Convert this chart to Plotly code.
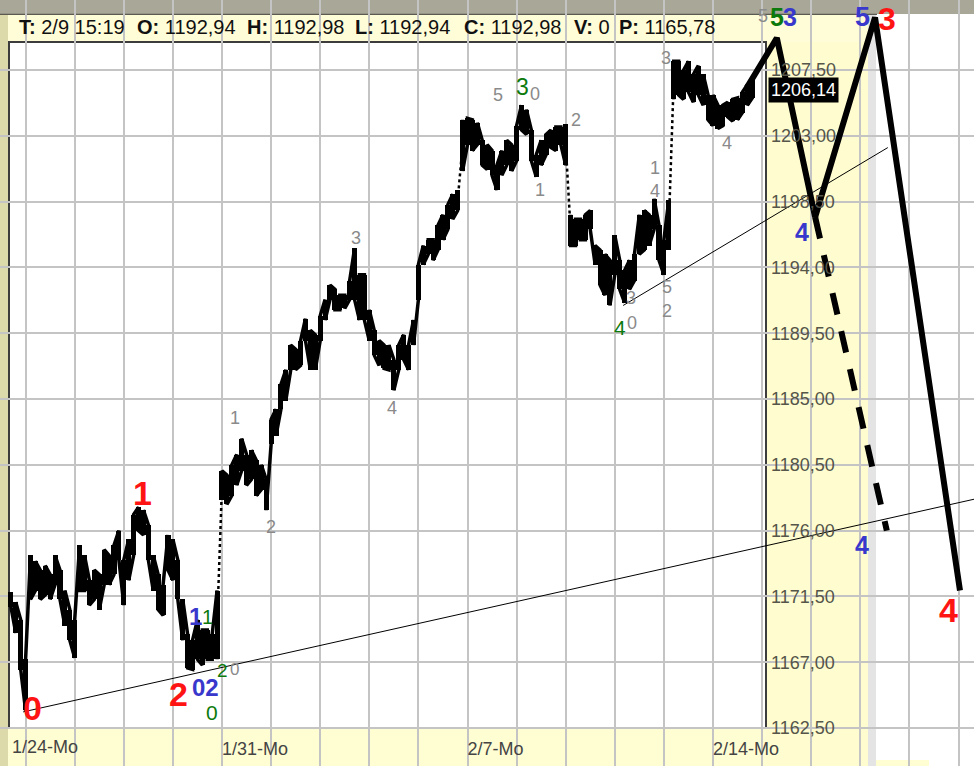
import plotly.graph_objects as go

# ---------------- data ----------------
day_start = 0.7      # first bar, in trading days (1/24 = day 0)
day_step = 0.1

price_high = [
    1171.8, 1171.1, 1169.9, 1167.2, 1174.3, 1173.9, 1173.3, 1173.6, 1173.0, 1174.3,
    1173.3, 1171.9, 1170.6, 1169.9, 1175.0, 1174.3, 1172.6, 1173.3, 1173.0, 1174.7,
    1174.3, 1175.0, 1176.0, 1174.0, 1175.4, 1177.1, 1177.6, 1177.4, 1176.4, 1174.3,
    1173.0, 1172.3, 1175.7, 1175.4, 1174.0, 1171.3, 1168.9, 1168.5, 1169.9, 1169.2,
    1169.2, 1168.9, 1171.9, 1180.1, 1179.8, 1180.5, 1181.2, 1182.3, 1181.2, 1181.5,
    1180.8, 1180.5, 1179.5, 1183.6, 1184.3, 1186.0, 1187.0, 1188.7, 1188.4, 1189.0,
    1190.5, 1189.7, 1189.4, 1190.7, 1191.8, 1192.8, 1192.5, 1192.1, 1192.1, 1193.1,
    1195.3, 1193.5, 1193.5, 1191.1, 1189.7, 1189.0, 1188.7, 1188.7, 1187.7, 1188.7,
    1189.4, 1188.7, 1190.4, 1194.2, 1195.5, 1195.9, 1195.9, 1196.9, 1197.6, 1198.3,
    1199.0, 1199.3, 1204.1, 1204.2, 1204.1, 1203.9, 1202.7, 1202.4, 1202.0, 1201.0,
    1202.0, 1202.7, 1202.4, 1203.7, 1205.1, 1204.8, 1203.4, 1201.7, 1202.7, 1203.1,
    1203.4, 1203.6, 1203.6, 1203.8, 1197.6, 1197.3, 1197.3, 1197.6, 1197.9, 1195.5,
    1195.2, 1194.9, 1194.5, 1196.2, 1194.5, 1193.8, 1194.5, 1194.9, 1197.6, 1197.9,
    1197.6, 1198.7, 1196.9, 1195.9, 1198.6, 1208.1, 1208.1, 1207.5, 1208.1, 1207.2,
    1207.8, 1207.2, 1205.8, 1205.8, 1205.1, 1205.1, 1205.3, 1205.5, 1205.6, 1206.0,
    1206.5, 1206.8,
]
price_low = [
    1170.8, 1169.0, 1166.5, 1163.7, 1171.3, 1171.9, 1171.3, 1171.6, 1171.3, 1172.3,
    1171.3, 1169.5, 1168.5, 1167.3, 1171.9, 1171.9, 1170.9, 1171.3, 1170.6, 1172.3,
    1172.3, 1173.0, 1174.0, 1170.9, 1172.6, 1174.3, 1176.0, 1175.7, 1174.0, 1171.9,
    1170.6, 1170.2, 1173.3, 1172.6, 1171.3, 1168.5, 1166.6, 1166.5, 1167.2, 1166.8,
    1167.2, 1167.2, 1167.2, 1178.1, 1177.8, 1178.4, 1179.1, 1180.1, 1179.1, 1179.5,
    1178.4, 1178.8, 1177.4, 1181.9, 1182.5, 1184.3, 1184.9, 1187.0, 1187.0, 1187.3,
    1189.0, 1187.0, 1187.0, 1189.0, 1190.4, 1191.8, 1191.1, 1191.1, 1191.2, 1191.8,
    1191.8, 1190.4, 1190.4, 1189.0, 1188.0, 1187.3, 1187.1, 1187.0, 1185.6, 1187.0,
    1187.7, 1187.0, 1188.7, 1191.8, 1194.2, 1194.9, 1194.5, 1195.2, 1195.9, 1196.6,
    1197.3, 1197.9, 1200.6, 1202.4, 1202.0, 1202.4, 1201.0, 1200.7, 1200.3, 1199.3,
    1200.3, 1201.0, 1200.6, 1201.3, 1203.4, 1203.1, 1201.3, 1200.2, 1201.0, 1201.7,
    1202.2, 1202.0, 1202.4, 1201.0, 1195.5, 1195.5, 1195.9, 1195.9, 1196.6, 1194.2,
    1192.8, 1192.1, 1191.4, 1193.5, 1192.5, 1191.6, 1192.5, 1193.1, 1194.9, 1195.2,
    1195.5, 1196.6, 1194.5, 1193.5, 1195.2, 1205.5, 1205.8, 1205.5, 1206.0, 1205.3,
    1205.8, 1205.1, 1204.1, 1203.7, 1203.5, 1203.7, 1204.3, 1204.0, 1204.1, 1204.6,
    1205.1, 1205.6,
]
session_breaks = [42, 91, 113, 134]   # gap after these bars

# projected wave path (solid) and alternate wave-4 target (dashed)
wave_days = [15.69, 16.30, 17.08, 18.30, 20.03]
wave_prices = [1206.3, 1209.7, 1197.45, 1211.1, 1171.9]
alt_days = [17.08, 18.54]
alt_prices = [1197.45, 1176.0]

# thin trend lines
trend1_days = [0.95, 20.32]
trend1_prices = [1163.6, 1178.15]
trend2_days = [13.17, 18.56]
trend2_prices = [1191.4, 1202.2]

y_ticks = [1162.5, 1167.0, 1171.5, 1176.0, 1180.5, 1185.0, 1189.5, 1194.0, 1198.5, 1203.0, 1207.5]
x_tick_days = [5, 10, 15]
x_tick_labels = ["1/31-Mo", "2/7-Mo", "2/14-Mo"]
first_day_label = "1/24-Mo"
last_price = 1206.14

RED, BLUE, GREEN, GRAY = "#ff1414", "#3838cc", "#0c7a0c", "#8a8a8a"
# (text, day, price, color, size, bold)
wave_labels = [
    ("0", 1.15, 1163.9, RED, 34, True),
    ("1", 3.39, 1178.6, RED, 34, True),
    ("2", 4.12, 1164.8, RED, 34, True),
    ("3", 18.54, 1211.0, RED, 32, True),
    ("4", 19.79, 1170.55, RED, 34, True),
    ("5", 18.04, 1211.1, BLUE, 27, True),
    ("3", 16.57, 1211.1, BLUE, 25, True),
    ("5", 16.30, 1211.1, GREEN, 25, True),
    ("5", 16.02, 1211.2, GRAY, 18, False),
    ("4", 16.81, 1196.4, BLUE, 25, True),
    ("4", 18.04, 1175.0, BLUE, 25, True),
    ("1", 4.47, 1170.1, BLUE, 24, True),
    ("1", 4.70, 1170.1, GREEN, 20, False),
    ("02", 4.66, 1165.3, BLUE, 24, True),
    ("2", 5.01, 1166.45, GREEN, 19, False),
    ("0", 5.25, 1166.5, GRAY, 17, False),
    ("0", 4.80, 1163.55, GREEN, 21, False),
    ("1", 5.27, 1183.7, GRAY, 18, False),
    ("2", 6.00, 1176.25, GRAY, 18, False),
    ("3", 7.73, 1196.0, GRAY, 18, False),
    ("4", 8.46, 1184.4, GRAY, 18, False),
    ("5", 10.62, 1205.8, GRAY, 18, False),
    ("3", 11.13, 1206.35, GREEN, 23, False),
    ("0", 11.38, 1205.85, GRAY, 18, False),
    ("1", 11.48, 1199.3, GRAY, 18, False),
    ("2", 12.21, 1204.1, GRAY, 18, False),
    ("3", 13.33, 1191.9, GRAY, 18, False),
    ("0", 13.35, 1190.2, GRAY, 18, False),
    ("4", 13.11, 1189.9, GREEN, 21, False),
    ("1", 13.82, 1200.8, GRAY, 18, False),
    ("4", 13.82, 1199.2, GRAY, 18, False),
    ("5", 14.06, 1192.65, GRAY, 18, False),
    ("2", 14.06, 1191.0, GRAY, 18, False),
    ("3", 14.04, 1208.3, GRAY, 18, False),
    ("4", 15.29, 1202.5, GRAY, 18, False),
]

header_fields = [("T:", "2/9 15:19"), ("O:", "1192,94"), ("H:", "1192,98"), ("L:", "1192,94"),
                 ("C:", "1192,98"), ("V:", "0"), ("P:", "1165,78")]
header_x = [0.0175, 0.1385, 0.2515, 0.3625, 0.4745, 0.5875, 0.6335]

# ---------------- figure ----------------
W, H = 974, 766
FONT = "Liberation Sans, Arial, sans-serif"


def px(v):  # paper x from pixel
    return v / W


def py(v):  # paper y from pixel (from top)
    return 1 - v / H


fig = go.Figure()

n = len(price_high)
days = [day_start + day_step * i for i in range(n)]
ranges = [h - l for h, l in zip(price_high, price_low)]

# dotted connectors across session gaps
conn_x, conn_y = [], []
for b in session_breaks:
    conn_x += [days[b], days[b + 1], None]
    conn_y += [(price_high[b] + price_low[b]) / 2, (price_high[b + 1] + price_low[b + 1]) / 2, None]
fig.add_trace(go.Scatter(x=conn_x, y=conn_y, mode="lines",
                         line=dict(color="black", width=2.5, dash="3px,3px"), hoverinfo="skip"))

# intraday price band: one high-low bar per step
fig.add_trace(go.Bar(x=days, y=ranges, base=price_low, width=day_step * 1.04,
                     marker=dict(color="black", line=dict(width=0)), hoverinfo="skip"))

# zig-zag path joining consecutive bars inside each session
zx, zy = [], []
for i in range(n):
    pair = (price_high[i], price_low[i]) if i % 2 == 0 else (price_low[i], price_high[i])
    zx += [days[i], days[i]]
    zy += list(pair)
    if i in session_breaks:
        zx.append(None)
        zy.append(None)
fig.add_trace(go.Scatter(x=zx, y=zy, mode="lines", connectgaps=False,
                         line=dict(color="black", width=3.5), hoverinfo="skip"))

# thin trend lines
fig.add_trace(go.Scatter(x=trend1_days, y=trend1_prices, mode="lines",
                         line=dict(color="black", width=1), hoverinfo="skip"))
fig.add_trace(go.Scatter(x=trend2_days, y=trend2_prices, mode="lines",
                         line=dict(color="black", width=1), hoverinfo="skip"))

# wave projections
fig.add_trace(go.Scatter(x=alt_days, y=alt_prices, mode="lines",
                         line=dict(color="black", width=6, dash="22px,17px"), hoverinfo="skip"))
fig.add_trace(go.Scatter(x=wave_days, y=wave_prices, mode="lines",
                         line=dict(color="black", width=6), hoverinfo="skip"))

GRID = "#c4c4c4"
shapes = [
    # top gray bar
    dict(type="rect", xref="paper", yref="paper", x0=0, x1=1, y0=py(14), y1=1,
         fillcolor="#a9a797", line_width=0, layer="between"),
    dict(type="line", xref="paper", yref="paper", x0=0, x1=px(877), y0=py(14.5), y1=py(14.5),
         line=dict(color="#5a5a50", width=1.5), layer="between"),
    # left strip
    dict(type="rect", xref="paper", yref="paper", x0=0, x1=px(8), y0=0, y1=py(15),
         fillcolor="#dcd9ab", line_width=0, layer="between"),
    # header
    dict(type="rect", xref="paper", yref="paper", x0=px(8), x1=px(868), y0=py(42), y1=py(15),
         fillcolor="#fffcd8", line_width=0, layer="between"),
    # right axis panel
    dict(type="rect", xref="paper", yref="paper", x0=px(766), x1=px(868), y0=0, y1=py(42),
         fillcolor="#fffdcf", line_width=0, layer="between"),
    # bottom axis panel
    dict(type="rect", xref="paper", yref="paper", x0=px(8), x1=px(766), y0=0, y1=py(728),
         fillcolor="#fffdd2", line_width=0, layer="between"),
    # gray strip and white margin
    dict(type="rect", xref="paper", yref="paper", x0=px(868), x1=px(876), y0=0, y1=py(15),
         fillcolor="#e4e4e4", line_width=0, layer="between"),
    dict(type="rect", xref="paper", yref="paper", x0=px(876), x1=1, y0=0, y1=py(15),
         fillcolor="white", line_width=0, layer="between"),
    dict(type="rect", xref="paper", yref="paper", x0=px(876), x1=px(929), y0=0, y1=py(760),
         fillcolor="#fffdd2", line_width=0, layer="between"),
    # plot frame
    dict(type="rect", xref="paper", yref="paper", x0=px(9), x1=px(766), y0=py(728), y1=py(42),
         fillcolor="rgba(0,0,0,0)", line=dict(color="#3c3c3c", width=2), layer="between"),
]

annotations = []
for (lab, val), hx in zip(header_fields, header_x):
    annotations.append(dict(xref="paper", yref="paper", x=hx, y=py(27), xanchor="left", yanchor="middle",
                            text=f"<b>{lab}</b> {val}", showarrow=False,
                            font=dict(family=FONT, size=20, color="#111")))
annotations.append(dict(xref="paper", yref="paper", x=px(10), y=py(747), xanchor="left", yanchor="middle",
                        text=first_day_label, showarrow=False, font=dict(family=FONT, size=18, color="#444")))
annotations.append(dict(xref="paper", yref="y", x=px(768), y=last_price, xanchor="left", yanchor="middle",
                        text=f"{last_price:.2f}".replace(".", ","), showarrow=False, bgcolor="black",
                        borderpad=2, font=dict(family=FONT, size=18, color="white")))
for txt, d, p, c, s, b in wave_labels:
    annotations.append(dict(x=d, y=p, xref="x", yref="y", text=f"<b>{txt}</b>" if b else txt,
                            showarrow=False, xanchor="center", yanchor="middle",
                            font=dict(family=FONT, size=s, color=c)))

fig.update_layout(
    width=W, height=H, margin=dict(l=0, r=0, t=0, b=0),
    paper_bgcolor="white", plot_bgcolor="white", showlegend=False,
    separators=",.", bargap=0,
    font=dict(family=FONT),
    shapes=shapes, annotations=annotations,
    xaxis=dict(range=[0.4786, 20.3157], anchor="free", position=38 / H,
               tickvals=x_tick_days, ticktext=x_tick_labels, ticklabelposition="outside right",
               ticklabelstandoff=8,
               ticks="", showline=False, zeroline=False,
               showgrid=True, gridcolor=GRID, gridwidth=2,
               minor=dict(dtick=1, tick0=0, showgrid=True, gridcolor=GRID, gridwidth=2),
               tickfont=dict(family=FONT, size=18, color="#444")),
    yaxis=dict(range=[1159.90, 1212.295], anchor="free", position=770 / W, side="right",
               tickvals=y_ticks, tickformat=".2f", ticks="", showline=False, zeroline=False,
               showgrid=True, gridcolor=GRID, gridwidth=2,
               tickfont=dict(family=FONT, size=18, color="#55554a")),
)

fig.write_html("out.html", config={"displayModeBar": False},
               post_script="document.body.style.margin='0';document.body.style.overflow='hidden';")
